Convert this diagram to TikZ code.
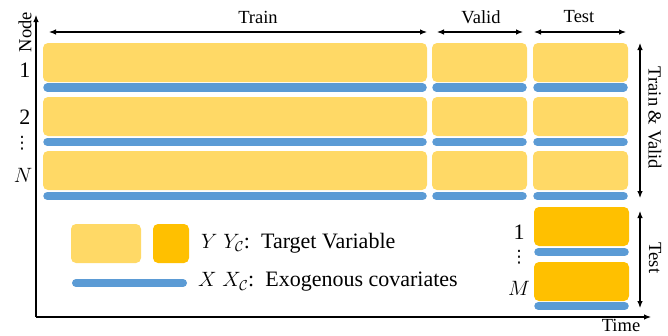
\documentclass[tikz,border=0pt]{standalone}
\usepackage{fontspec}
\setmainfont{Liberation Serif}
\newfontfamily\symfont{DejaVu Sans}
\usepackage{tikz}
\usetikzlibrary{arrows.meta}

\definecolor{lightgold}{HTML}{FFD966}
\definecolor{gold}{HTML}{FFC000}
\definecolor{exoblue}{HTML}{5B9BD5}

\tikzset{
  ybox/.style={fill=lightgold, rounded corners=5pt},
  obox/.style={fill=gold, rounded corners=5pt},
  xbar/.style={draw=exoblue, line width=8.5pt, line cap=round},
  span/.style={line width=1.1pt, {Latex[length=7pt,width=5.5pt]}-{Latex[length=7pt,width=5.5pt]}},
  axis/.style={line width=1.1pt, -{Latex[length=7pt,width=5.5pt]}},
  lab/.style={font=\fontsize{18.5}{20}\selectfont, inner sep=0pt},
  big/.style={font=\fontsize{22}{24}\selectfont, inner sep=0pt},
  dots/.style={font=\symfont\fontsize{17}{18}\selectfont, inner sep=0pt},
}

\begin{document}
\begin{tikzpicture}[x=1pt,y=-1pt]
\useasboundingbox (0,0) rectangle (668,335);

% axes
\coordinate (O) at (36,317);
\coordinate (ytop) at (36,15);
\coordinate (xend) at (651,317);
\draw[axis] (O) -- (ytop);
\draw[axis] (O) -- (xend);
\node (node) [lab,rotate=90] at (25,32) {Node};
\node (time) [lab] at (621,325) {Time};

% train / valid / test rows
\foreach \y/\b [count=\i] in {43/87.5, 97/142, 151/196}{
  \foreach \xa/\xb/\c in {43/427/tr, 432/527/va, 533/628/te}{
    \path[ybox] (\xa,\y) rectangle (\xb,\y+39) node[coordinate] (\c\i) {};
    \draw[xbar] (\xa+4.5,\b) -- (\xb-4.5,\b);
  }
}

% extra test nodes
\foreach \y/\b [count=\i] in {207/252, 262/306}{
  \path[obox] (534,\y) rectangle (629,\y+39) node[coordinate] (ts\i) {};
  \draw[xbar] (538.5,\b) -- (624.5,\b);
}

% column spans
\coordinate (trL) at (49,32);  \coordinate (trR) at (427,32);
\coordinate (vaL) at (437,32); \coordinate (vaR) at (523,32);
\coordinate (teL) at (534,32); \coordinate (teR) at (626,32);
\draw[span] (trL) -- (trR);
\draw[span] (vaL) -- (vaR);
\draw[span] (teL) -- (teR);
\node (train) [lab] at (258,17) {Train};
\node (valid) [lab] at (481,17) {Valid};
\node (test) [lab] at (579,17) {Test};

% row spans
\coordinate (tvT) at (640,43); \coordinate (tvB) at (640,198);
\coordinate (tsT) at (640,211); \coordinate (tsB) at (640,308);
\draw[span] (tvT) -- (tvB);
\draw[span] (tsT) -- (tsB);
\node (trva) [lab,rotate=-90] at (655,118) {Train \& Valid};
\node (tsl) [lab,rotate=-90] at (655,258) {Test};

% node indices
\node (n1) [big] at (25,70) {1};
\node (n2) [big] at (25,117) {2};
\node (nd) [dots] at (22,143) {⋮};
\node (nN) [big] at (23,175) {$N$};
\node (m1) [big] at (519,232) {1};
\node (md) [dots] at (519,257) {⋮};
\node (mM) [big] at (519,288) {$M$};

% legend
\path[ybox] (71,224) rectangle (141,263);
\path[obox] (153,224) rectangle (189,263);
\draw[xbar, line width=8pt] (76,283) -- (183,283);
\node (ylab) [big,anchor=west] at (201,243) {$Y\;Y_{\mathcal{C}}$:\ \ Target Variable};
\node (xlab) [big,anchor=west] at (198,282) {$X\;X_{\mathcal{C}}$:\ \ Exogenous covariates};
\end{tikzpicture}
\end{document}
